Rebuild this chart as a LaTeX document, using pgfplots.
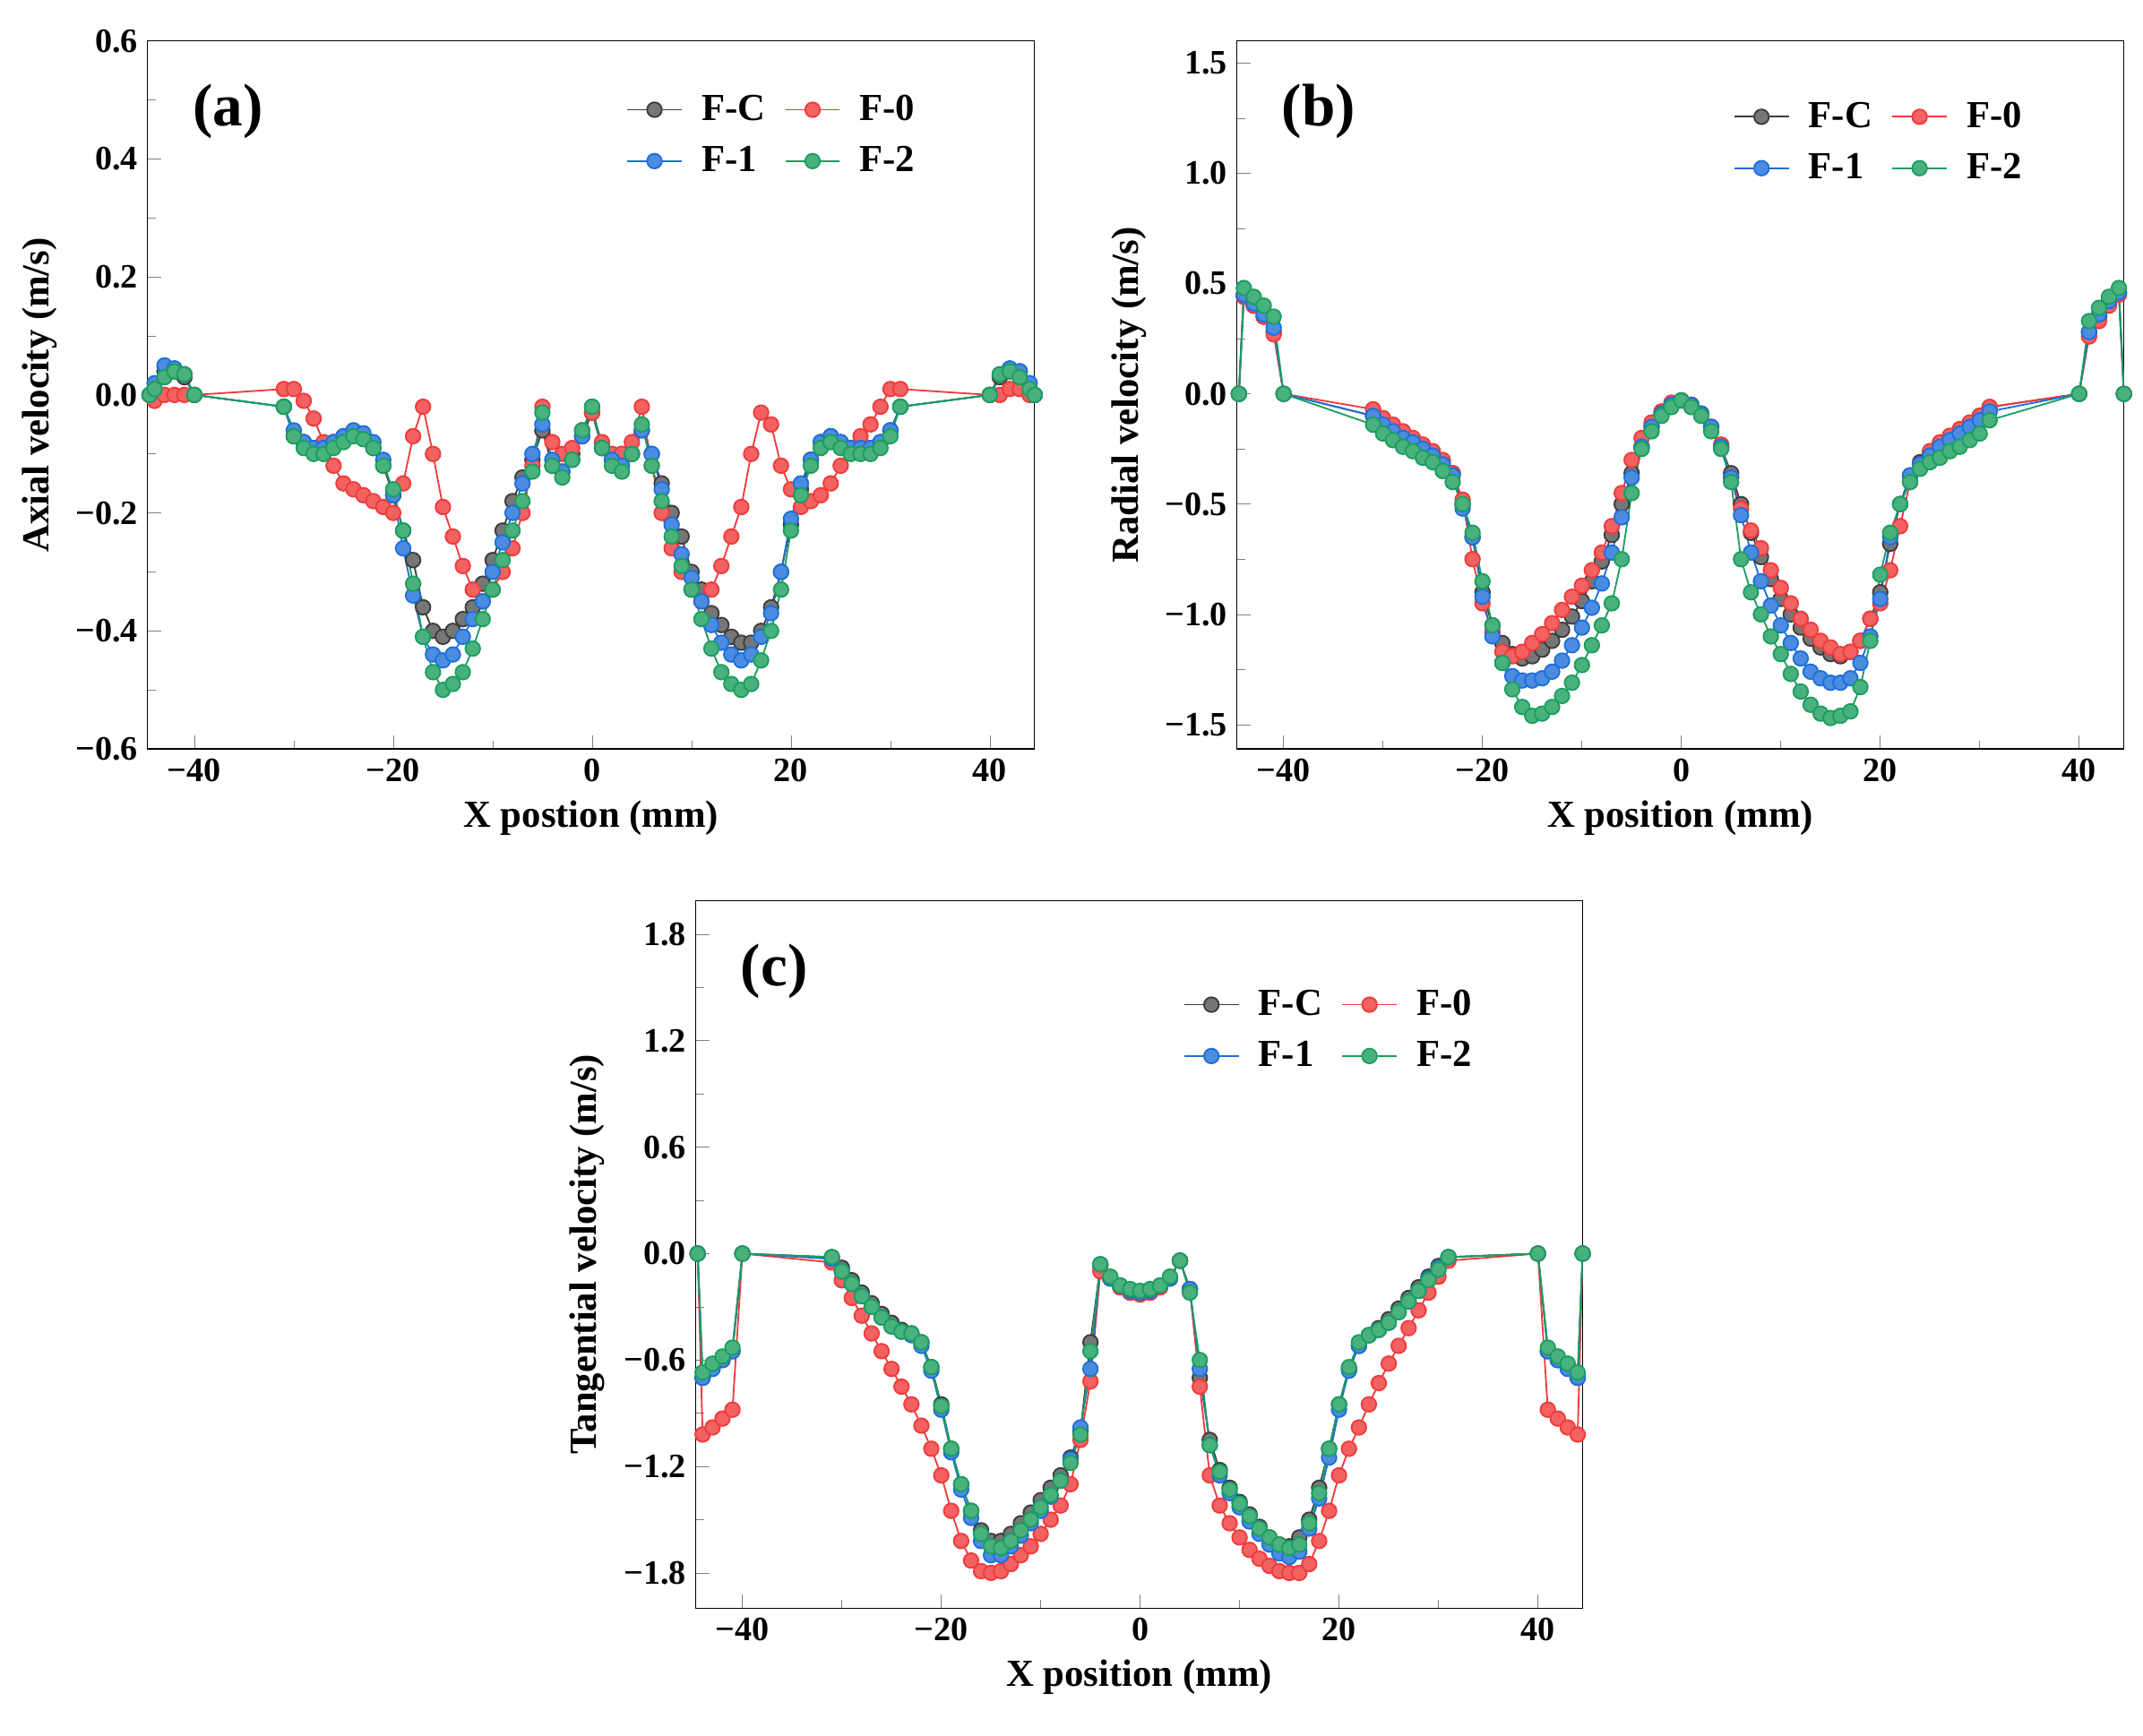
\documentclass[border=0pt]{standalone}
\usepackage{pgfplots}
\pgfplotsset{compat=1.18}
\usepackage{pgfplotstable}
\usepackage{fontspec}
\setmainfont{Liberation Serif}
\definecolor{cC}{HTML}{3C3C3C}
\definecolor{c0}{HTML}{F03A3A}
\definecolor{c1}{HTML}{1E6FD9}
\definecolor{c2}{HTML}{1B9E5E}
\pgfplotstableread{
x fc f0 f1 f2
-44.5 0 0 0 0
-44 0.01 -0.01 0.02 0.01
-43 0.04 0.0 0.05 0.03
-42 0.04 0.0 0.045 0.04
-41 0.03 0.0 0.035 0.035
-40 0 0 0 0
-31 -0.02 0.01 -0.02 -0.02
-30 -0.07 0.01 -0.06 -0.07
-29 -0.08 -0.01 -0.08 -0.09
-28 -0.09 -0.04 -0.09 -0.1
-27 -0.09 -0.08 -0.09 -0.1
-26 -0.08 -0.12 -0.08 -0.09
-25 -0.07 -0.15 -0.07 -0.08
-24 -0.065 -0.16 -0.06 -0.07
-23 -0.07 -0.17 -0.065 -0.075
-22 -0.09 -0.18 -0.08 -0.09
-21 -0.12 -0.19 -0.11 -0.12
-20 -0.17 -0.2 -0.17 -0.16
-19 -0.23 -0.15 -0.26 -0.23
-18 -0.28 -0.07 -0.34 -0.32
-17 -0.36 -0.02 -0.41 -0.41
-16 -0.4 -0.1 -0.44 -0.47
-15 -0.41 -0.19 -0.45 -0.5
-14 -0.4 -0.24 -0.44 -0.49
-13 -0.38 -0.29 -0.41 -0.47
-12 -0.36 -0.33 -0.38 -0.43
-11 -0.32 -0.35 -0.35 -0.38
-10 -0.28 -0.33 -0.3 -0.33
-9 -0.23 -0.3 -0.25 -0.28
-8 -0.18 -0.26 -0.2 -0.23
-7 -0.14 -0.2 -0.15 -0.18
-6 -0.11 -0.12 -0.1 -0.13
-5 -0.06 -0.02 -0.05 -0.03
-4 -0.12 -0.08 -0.11 -0.12
-3 -0.13 -0.1 -0.13 -0.14
-2 -0.1 -0.09 -0.11 -0.11
-1 -0.07 -0.06 -0.07 -0.06
0 -0.03 -0.03 -0.02 -0.02
1 -0.09 -0.08 -0.09 -0.09
2 -0.11 -0.1 -0.11 -0.12
3 -0.1 -0.1 -0.12 -0.13
4 -0.1 -0.08 -0.1 -0.1
5 -0.06 -0.02 -0.06 -0.05
6 -0.1 -0.12 -0.1 -0.12
7 -0.15 -0.2 -0.16 -0.18
8 -0.2 -0.26 -0.22 -0.24
9 -0.24 -0.3 -0.27 -0.29
10 -0.3 -0.33 -0.31 -0.33
11 -0.33 -0.35 -0.35 -0.38
12 -0.37 -0.33 -0.39 -0.43
13 -0.39 -0.29 -0.42 -0.47
14 -0.41 -0.24 -0.44 -0.49
15 -0.42 -0.19 -0.45 -0.5
16 -0.42 -0.1 -0.44 -0.49
17 -0.4 -0.03 -0.41 -0.45
18 -0.36 -0.05 -0.37 -0.4
19 -0.3 -0.12 -0.3 -0.33
20 -0.22 -0.16 -0.21 -0.23
21 -0.16 -0.19 -0.15 -0.17
22 -0.11 -0.18 -0.11 -0.12
23 -0.08 -0.17 -0.08 -0.09
24 -0.07 -0.15 -0.07 -0.08
25 -0.08 -0.12 -0.08 -0.09
26 -0.09 -0.09 -0.09 -0.1
27 -0.09 -0.07 -0.09 -0.1
28 -0.09 -0.05 -0.09 -0.1
29 -0.08 -0.02 -0.08 -0.09
30 -0.06 0.01 -0.06 -0.07
31 -0.02 0.01 -0.02 -0.02
40 0 0 0 0
41 0.03 0 0.035 0.035
42 0.04 0.01 0.045 0.04
43 0.04 0.01 0.04 0.03
44 0.01 0 0.02 0.01
44.5 0 0 0 0
}\tA
\pgfplotstableread{
x fc f0 f1 f2
-44.5 0 0 0 0
-44 0.45 0.44 0.45 0.48
-43 0.4 0.4 0.41 0.44
-42 0.35 0.35 0.36 0.4
-41 0.28 0.27 0.3 0.35
-40 0 0 0 0
-31 -0.1 -0.07 -0.1 -0.14
-30 -0.13 -0.11 -0.14 -0.18
-29 -0.16 -0.14 -0.17 -0.21
-28 -0.19 -0.17 -0.2 -0.24
-27 -0.21 -0.2 -0.22 -0.26
-26 -0.24 -0.23 -0.25 -0.29
-25 -0.27 -0.26 -0.28 -0.31
-24 -0.31 -0.3 -0.32 -0.35
-23 -0.36 -0.36 -0.37 -0.4
-22 -0.5 -0.48 -0.52 -0.5
-21 -0.65 -0.75 -0.65 -0.63
-20 -0.9 -0.95 -0.92 -0.85
-19 -1.05 -1.08 -1.1 -1.05
-18 -1.13 -1.17 -1.22 -1.22
-17 -1.18 -1.19 -1.28 -1.34
-16 -1.2 -1.17 -1.3 -1.42
-15 -1.19 -1.13 -1.3 -1.46
-14 -1.16 -1.09 -1.29 -1.45
-13 -1.12 -1.04 -1.26 -1.42
-12 -1.07 -0.98 -1.21 -1.37
-11 -1.01 -0.92 -1.14 -1.31
-10 -0.94 -0.87 -1.06 -1.23
-9 -0.85 -0.8 -0.97 -1.14
-8 -0.76 -0.72 -0.86 -1.05
-7 -0.64 -0.6 -0.72 -0.95
-6 -0.5 -0.45 -0.56 -0.75
-5 -0.36 -0.3 -0.38 -0.45
-4 -0.24 -0.2 -0.24 -0.25
-3 -0.15 -0.13 -0.15 -0.17
-2 -0.09 -0.08 -0.09 -0.1
-1 -0.05 -0.04 -0.05 -0.06
0 -0.03 -0.03 -0.03 -0.03
1 -0.05 -0.05 -0.05 -0.06
2 -0.09 -0.09 -0.09 -0.1
3 -0.15 -0.15 -0.15 -0.17
4 -0.24 -0.23 -0.24 -0.25
5 -0.36 -0.38 -0.38 -0.4
6 -0.5 -0.52 -0.55 -0.75
7 -0.63 -0.62 -0.72 -0.9
8 -0.74 -0.7 -0.85 -1.0
9 -0.84 -0.8 -0.96 -1.1
10 -0.93 -0.88 -1.05 -1.18
11 -1.0 -0.95 -1.13 -1.27
12 -1.06 -1.02 -1.2 -1.35
13 -1.11 -1.07 -1.26 -1.41
14 -1.15 -1.12 -1.29 -1.45
15 -1.18 -1.15 -1.31 -1.47
16 -1.19 -1.18 -1.31 -1.46
17 -1.17 -1.17 -1.29 -1.44
18 -1.12 -1.12 -1.22 -1.33
19 -1.02 -1.02 -1.1 -1.12
20 -0.9 -0.95 -0.93 -0.82
21 -0.68 -0.8 -0.65 -0.63
22 -0.5 -0.6 -0.5 -0.5
23 -0.37 -0.4 -0.37 -0.4
24 -0.31 -0.32 -0.32 -0.34
25 -0.27 -0.26 -0.28 -0.31
26 -0.23 -0.22 -0.24 -0.29
27 -0.2 -0.19 -0.21 -0.26
28 -0.17 -0.16 -0.18 -0.24
29 -0.14 -0.13 -0.15 -0.21
30 -0.1 -0.1 -0.12 -0.18
31 -0.06 -0.06 -0.08 -0.12
40 0 0 0 0
41 0.28 0.26 0.28 0.33
42 0.35 0.33 0.36 0.39
43 0.41 0.4 0.42 0.44
44 0.46 0.45 0.46 0.48
44.5 0 0 0 0
}\tB
\pgfplotstableread{
x fc f0 f1 f2
-44.5 0 0 0 0
-44 -0.7 -1.02 -0.7 -0.67
-43 -0.64 -0.98 -0.65 -0.62
-42 -0.6 -0.93 -0.6 -0.58
-41 -0.55 -0.88 -0.55 -0.53
-40 0 0 0 0
-31 -0.02 -0.05 -0.03 -0.02
-30 -0.08 -0.15 -0.1 -0.1
-29 -0.15 -0.25 -0.17 -0.17
-28 -0.22 -0.35 -0.24 -0.24
-27 -0.28 -0.45 -0.3 -0.3
-26 -0.34 -0.55 -0.36 -0.36
-25 -0.39 -0.65 -0.41 -0.41
-24 -0.43 -0.75 -0.44 -0.44
-23 -0.45 -0.85 -0.46 -0.45
-22 -0.5 -0.97 -0.52 -0.5
-21 -0.64 -1.1 -0.66 -0.64
-20 -0.85 -1.25 -0.88 -0.86
-19 -1.1 -1.45 -1.12 -1.1
-18 -1.3 -1.62 -1.33 -1.3
-17 -1.45 -1.73 -1.49 -1.45
-16 -1.56 -1.79 -1.62 -1.58
-15 -1.62 -1.8 -1.7 -1.65
-14 -1.62 -1.79 -1.7 -1.66
-13 -1.58 -1.75 -1.65 -1.62
-12 -1.52 -1.7 -1.59 -1.56
-11 -1.46 -1.65 -1.52 -1.5
-10 -1.39 -1.58 -1.45 -1.43
-9 -1.32 -1.5 -1.37 -1.36
-8 -1.25 -1.42 -1.28 -1.28
-7 -1.15 -1.3 -1.16 -1.18
-6 -1.0 -1.05 -0.98 -1.02
-5 -0.5 -0.72 -0.65 -0.55
-4 -0.07 -0.1 -0.06 -0.06
-3 -0.14 -0.14 -0.14 -0.13
-2 -0.19 -0.19 -0.18 -0.18
-1 -0.22 -0.22 -0.21 -0.2
0 -0.23 -0.23 -0.22 -0.21
1 -0.22 -0.22 -0.21 -0.2
2 -0.19 -0.19 -0.18 -0.18
3 -0.14 -0.14 -0.14 -0.13
4 -0.04 -0.04 -0.04 -0.04
5 -0.2 -0.2 -0.2 -0.22
6 -0.7 -0.75 -0.65 -0.6
7 -1.05 -1.25 -1.08 -1.08
8 -1.22 -1.42 -1.25 -1.23
9 -1.32 -1.52 -1.35 -1.33
10 -1.4 -1.6 -1.43 -1.41
11 -1.47 -1.67 -1.51 -1.48
12 -1.54 -1.72 -1.58 -1.55
13 -1.6 -1.76 -1.64 -1.6
14 -1.64 -1.79 -1.69 -1.64
15 -1.65 -1.8 -1.71 -1.66
16 -1.6 -1.8 -1.68 -1.64
17 -1.5 -1.75 -1.55 -1.52
18 -1.32 -1.62 -1.38 -1.35
19 -1.1 -1.45 -1.15 -1.1
20 -0.85 -1.25 -0.88 -0.85
21 -0.65 -1.1 -0.66 -0.64
22 -0.52 -0.98 -0.52 -0.5
23 -0.46 -0.85 -0.46 -0.46
24 -0.42 -0.73 -0.43 -0.43
25 -0.37 -0.62 -0.39 -0.39
26 -0.31 -0.52 -0.33 -0.33
27 -0.25 -0.42 -0.27 -0.27
28 -0.19 -0.32 -0.21 -0.21
29 -0.13 -0.22 -0.14 -0.15
30 -0.07 -0.13 -0.08 -0.09
31 -0.02 -0.04 -0.02 -0.02
40 0 0 0 0
41 -0.55 -0.88 -0.55 -0.53
42 -0.6 -0.93 -0.6 -0.58
43 -0.64 -0.98 -0.65 -0.62
44 -0.7 -1.02 -0.7 -0.67
44.5 0 0 0 0
}\tC
\pgfplotsset{
  vel/.style={
    scale only axis, width=324.5pt, height=259pt, anchor=north west,
    xmin=-44.7, xmax=44.5,
    tick pos=left, tick align=inside,
    major tick length=5pt, minor tick length=3pt,
    xtick={-40,-20,0,20,40},
    xticklabels={−40,−20,0,20,40},
    minor x tick num=1,
    minor y tick num=1,
    ticklabel style={font=\fontsize{12.5}{14}\selectfont\bfseries},
    label style={font=\fontsize{14}{16}\selectfont\bfseries},
    legend style={draw=none, fill=none, font=\fontsize{14}{16}\selectfont\bfseries,
      legend columns=2, column sep=5pt, row sep=4pt, anchor=north west},
    legend cell align=left,
    legend image code/.code={\draw[mark repeat=2,mark phase=2] plot coordinates {(0cm,0cm) (0.35cm,0cm) (0.7cm,0cm)};},
    every axis plot/.append style={line width=0.6pt, mark=*, mark size=2.7pt},
  },
  sC/.style={color=cC, mark options={fill=cC!70, draw=cC}},
  s0/.style={color=c0, mark options={fill=c0!80, draw=c0}},
  s1/.style={color=c1, mark options={fill=c1!80, draw=c1}},
  s2/.style={color=c2, mark options={fill=c2!80, draw=c2}},
}
\begin{document}
\begin{tikzpicture}
\path (0,0) rectangle (784pt,-635pt);
\begin{axis}[vel, at={(54pt,-15pt)},
  ymin=-0.6, ymax=0.6, ytick={-0.6,-0.4,-0.2,0,0.2,0.4,0.6},
  yticklabels={−0.6,−0.4,−0.2,0.0,0.2,0.4,0.6},
  xlabel={X postion (mm)}, ylabel={Axial velocity (m/s)},
  legend style={at={(0.53,0.94)}}]
\addplot[sC] table[x=x,y=fc]{\tA};
\addplot[s0] table[x=x,y=f0]{\tA};
\addplot[s1] table[x=x,y=f1]{\tA};
\addplot[s2] table[x=x,y=f2]{\tA};
\legend{F-C,F-0,F-1,F-2}
\node[anchor=west,font=\fontsize{22}{24}\selectfont\bfseries] at (rel axis cs:0.04,0.9) {(a)};
\end{axis}
\begin{axis}[vel, at={(452.5pt,-15pt)},
  ymin=-1.61, ymax=1.6, ytick={-1.5,-1,-0.5,0,0.5,1,1.5},
  yticklabels={−1.5,−1.0,−0.5,0.0,0.5,1.0,1.5},
  xlabel={X position (mm)}, ylabel={Radial velocity (m/s)},
  legend style={at={(0.55,0.93)}}]
\addplot[sC] table[x=x,y=fc]{\tB};
\addplot[s0] table[x=x,y=f0]{\tB};
\addplot[s1] table[x=x,y=f1]{\tB};
\addplot[s2] table[x=x,y=f2]{\tB};
\legend{F-C,F-0,F-1,F-2}
\node[anchor=west,font=\fontsize{22}{24}\selectfont\bfseries] at (rel axis cs:0.04,0.9) {(b)};
\end{axis}
\begin{axis}[vel, at={(254.5pt,-329.5pt)},
  ymin=-2.0, ymax=1.99, ytick={-1.8,-1.2,-0.6,0,0.6,1.2,1.8},
  yticklabels={−1.8,−1.2,−0.6,0.0,0.6,1.2,1.8},
  xlabel={X position (mm)}, ylabel={Tangential velocity (m/s)},
  legend style={at={(0.54,0.89)}}]
\addplot[sC] table[x=x,y=fc]{\tC};
\addplot[s0] table[x=x,y=f0]{\tC};
\addplot[s1] table[x=x,y=f1]{\tC};
\addplot[s2] table[x=x,y=f2]{\tC};
\legend{F-C,F-0,F-1,F-2}
\node[anchor=west,font=\fontsize{22}{24}\selectfont\bfseries] at (rel axis cs:0.04,0.9) {(c)};
\end{axis}
\end{tikzpicture}
\end{document}
